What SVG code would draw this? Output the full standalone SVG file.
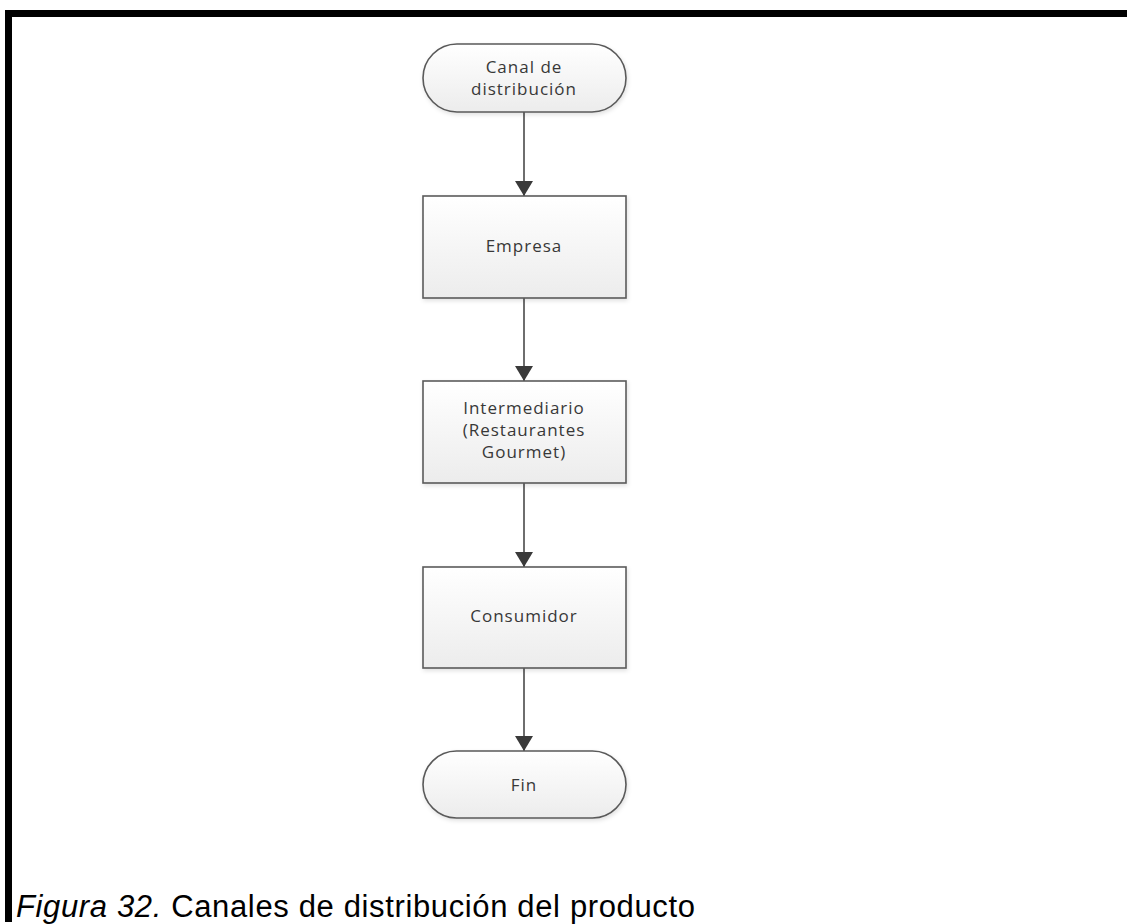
<svg xmlns="http://www.w3.org/2000/svg" width="1127" height="924" viewBox="0 0 1127 924">
  <style>
    .shape { fill: url(#g); stroke: #5a5a5a; stroke-width: 1.6; filter: url(#sh); }
    .lbl { font-family: "Open Sans", "Noto Sans", sans-serif; font-size: 17px; letter-spacing: 1px; fill: #383838; text-anchor: middle; }
    .conn { stroke: #4a4a4a; stroke-width: 1.6; fill: none; marker-end: url(#arr); }
    .cap { font-family: "Liberation Sans", Arial, sans-serif; font-size: 31px; fill: #000; }
  </style>
  <defs>
    <linearGradient id="g" x1="0" y1="0" x2="0" y2="1">
      <stop offset="0" stop-color="#ffffff"/>
      <stop offset="1" stop-color="#ececec"/>
    </linearGradient>
    <filter id="sh" x="-10%" y="-10%" width="120%" height="130%">
      <feDropShadow dx="1" dy="2" stdDeviation="2" flood-color="#000" flood-opacity="0.12"/>
    </filter>
    <marker id="arr" markerUnits="userSpaceOnUse" markerWidth="15" markerHeight="18" refX="15" refY="9" orient="auto" viewBox="0 0 15 18">
      <path d="M0,0 L15,9 L0,18 Z" fill="#3a3a3a"/>
    </marker>
  </defs>
  <rect x="0" y="0" width="1127" height="924" fill="#ffffff"/>
  <!-- frame -->
  <rect x="5" y="10" width="1122" height="7" fill="#000"/>
  <rect x="5" y="10" width="7" height="912" fill="#000"/>

  <g id="connectors">
    <line class="conn" x1="524" y1="112" x2="524" y2="196"/>
    <line class="conn" x1="524" y1="298" x2="524" y2="381"/>
    <line class="conn" x1="524" y1="483" x2="524" y2="567"/>
    <line class="conn" x1="524" y1="668" x2="524" y2="751"/>
  </g>

  <g id="node-canal">
    <rect class="shape" x="423" y="44" width="203" height="68" rx="34" ry="34"/>
    <text class="lbl" x="524" y="72.5">Canal de</text>
    <text class="lbl" x="524" y="95">distribución</text>
  </g>
  <g id="node-empresa">
    <rect class="shape" x="423" y="196" width="203" height="102"/>
    <text class="lbl" x="524" y="252">Empresa</text>
  </g>
  <g id="node-intermediario">
    <rect class="shape" x="423" y="381" width="203" height="102"/>
    <text class="lbl" x="524" y="414">Intermediario</text>
    <text class="lbl" x="524" y="436">(Restaurantes</text>
    <text class="lbl" x="524" y="458">Gourmet)</text>
  </g>
  <g id="node-consumidor">
    <rect class="shape" x="423" y="567" width="203" height="101"/>
    <text class="lbl" x="524" y="622">Consumidor</text>
  </g>
  <g id="node-fin">
    <rect class="shape" x="423" y="751" width="203" height="67" rx="33.5" ry="33.5"/>
    <text class="lbl" x="524" y="791">Fin</text>
  </g>

  <text class="cap" x="16" y="917" textLength="679" lengthAdjust="spacing"><tspan font-style="italic">Figura 32.</tspan> Canales de distribución del producto</text>
</svg>
